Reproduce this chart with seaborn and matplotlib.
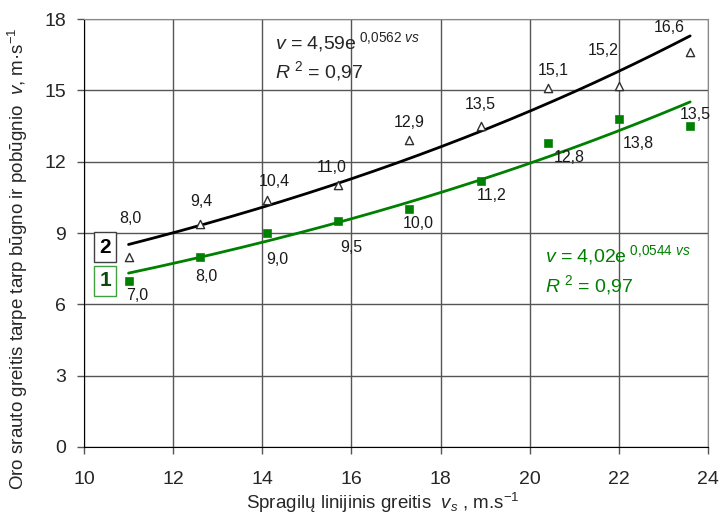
import numpy as np
import pandas as pd
import matplotlib
matplotlib.use('Agg')
import matplotlib.pyplot as plt
import seaborn as sns

# duomenys
vs = [11.0, 12.6, 14.1, 15.7, 17.3, 18.9, 20.4, 22.0, 23.6]
v2 = [8.0, 9.4, 10.4, 11.0, 12.9, 13.5, 15.1, 15.2, 16.6]
v1 = [7.0, 8.0, 9.0, 9.5, 10.0, 11.2, 12.8, 13.8, 13.5]
x_ticks = [10, 12, 14, 16, 18, 20, 22, 24]
y_ticks = [0, 3, 6, 9, 12, 15, 18]
# trendu koeficientai  v = a*exp(b*vs)
a2, b2, r2_2 = 4.59, 0.0562, 0.97
a1, b1, r2_1 = 4.02, 0.0544, 0.97

df = pd.DataFrame({'vs': vs, 'v1': v1, 'v2': v2})

sns.set_style('white')
plt.rcParams['font.family'] = ['Liberation Sans', 'DejaVu Sans']
plt.rcParams['mathtext.fontset'] = 'custom'
plt.rcParams['mathtext.rm'] = 'Liberation Sans'
plt.rcParams['mathtext.it'] = 'Liberation Sans:italic'

zalia = '#008000'
fig = plt.figure(figsize=(7.22, 5.17), dpi=100)
ax = fig.add_axes([0.1163, 0.1354, 0.8643, 0.8278])

# trendo linijos
xx = np.linspace(min(vs), max(vs), 200)
trend = pd.DataFrame({'x': xx, 't2': a2 * np.exp(b2 * xx), 't1': a1 * np.exp(b1 * xx)})
sns.lineplot(data=trend, x='x', y='t2', color='black', lw=2, ax=ax, zorder=3)
sns.lineplot(data=trend, x='x', y='t1', color=zalia, lw=2, ax=ax, zorder=3)

sns.scatterplot(data=df, x='vs', y='v2', marker='^', s=35, facecolor='white',
                edgecolor='#303030', linewidth=1, ax=ax, zorder=4)
sns.scatterplot(data=df, x='vs', y='v1', marker='s', s=33, color=zalia,
                edgecolor=zalia, ax=ax, zorder=4)

# etikečių poslinkiai (pikseliais)
off2 = [(2, 38), (2, 22), (8, 18), (-6, 18), (0, 18), (0, 22), (6, 17), (-16, 35), (-21, 25)]
off1 = [(9, -15), (7, -20), (11, -26), (13, -26), (9, -14), (11, -15), (22, -15), (19, -25), (5, 12)]
fmt = lambda z: f'{z:.1f}'.replace('.', ',')
for x, y, o in zip(vs, v2, off2):
    ax.annotate(fmt(y), (x, y), xytext=o, textcoords='offset pixels', ha='center',
                va='center', fontsize=11.5, color='#1a1a1a', zorder=5)
for x, y, o in zip(vs, v1, off1):
    ax.annotate(fmt(y), (x, y), xytext=o, textcoords='offset pixels', ha='center',
                va='center', fontsize=11.5, color='#1a1a1a', zorder=5)

# lygtys
eq2 = r'$\mathit{v}$ = 4,59e$^{\ 0{,}0562\ \mathit{vs}}$'
eq1 = r'$\mathit{v}$ = 4,02e$^{\ 0{,}0544\ \mathit{vs}}$'
rr = r'$\mathit{R}^{\ 2}$ = 0,97'
ax.text(0.306, 0.946, eq2, transform=ax.transAxes, fontsize=14, va='center')
ax.text(0.306, 0.878, rr, transform=ax.transAxes, fontsize=14, va='center')
ax.text(0.739, 0.448, eq1, transform=ax.transAxes, fontsize=14, va='center', color=zalia)
ax.text(0.739, 0.378, rr, transform=ax.transAxes, fontsize=14, va='center', color=zalia)

# serijų numeriai
ax.text(0.034, 0.467, '2', transform=ax.transAxes, fontsize=15, fontweight='bold',
        ha='center', va='center', color='black',
        bbox=dict(boxstyle='square,pad=0.25', fc='white', ec='#404040', lw=1))
ax.text(0.034, 0.388, '1', transform=ax.transAxes, fontsize=15, fontweight='bold',
        ha='center', va='center', color='#0a4a0a',
        bbox=dict(boxstyle='square,pad=0.25', fc='white', ec='#3fa03f', lw=1))

ax.set_xlim(10, 24)
ax.set_ylim(0, 18)
ax.set_xticks(x_ticks)
ax.set_yticks(y_ticks)
ax.grid(True, color='#555555', lw=1)
ax.tick_params(axis='both', direction='out', length=5, width=1, color='#555555',
               labelsize=14, left=True, bottom=True)
ax.tick_params(axis='x', pad=12)
ax.tick_params(axis='y', pad=8)
for s in ['left', 'bottom']:
    ax.spines[s].set_color('black')
for s in ['top', 'right']:
    ax.spines[s].set_color('#888888')

ax.set_xlabel(r'Spragilų linijinis greitis  $v_s$ , m.s$^{-1}$', fontsize=13.5)
ax.set_ylabel(r'Oro srauto greitis tarpe tarp būgno ir pobūgnio  $v$, m·s$^{-1}$',
              fontsize=13.5)
ax.xaxis.set_label_coords(0.479, -0.131)
ax.yaxis.set_label_coords(-0.106, 0.44)
ax.xaxis.label.set_va('center')
ax.yaxis.label.set_va('center')

fig.savefig('out.png', dpi=100)
